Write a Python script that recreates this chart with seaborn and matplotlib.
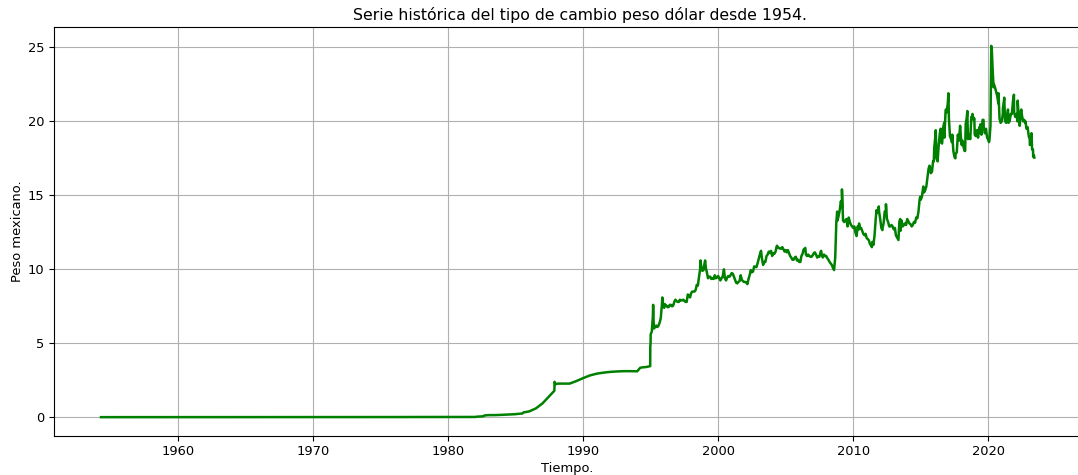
import pandas as pd
import numpy as np
import matplotlib
matplotlib.use("Agg")
import matplotlib.pyplot as plt
import seaborn as sns

# Tipo de cambio peso-dolar (pesos nuevos)
fechas_inicio = [
    "1954-04-19", "1976-08-31", "1976-09-15", "1977-06-01", "1980-01-01",
    "1981-12-31", "1982-02-18", "1982-08-10", "1982-09-01", "1982-12-20",
    "1983-06-01", "1984-01-01", "1984-12-01", "1985-07-01", "1985-08-01",
    "1986-01-01", "1986-07-01", "1987-01-01", "1987-06-01", "1987-11-15",
    "1987-11-20", "1987-12-15", "1988-03-01", "1989-01-01", "1989-07-01",
    "1990-01-01", "1990-07-01", "1991-01-01", "1991-07-01", "1992-01-01",
    "1992-07-01", "1993-01-01", "1993-07-01", "1994-01-01", "1994-03-25",
    "1994-06-01", "1994-09-01", "1994-12-20",
]
valores_inicio = [
    0.0125, 0.0125, 0.020, 0.0227, 0.0230,
    0.026, 0.045, 0.070, 0.12, 0.15,
    0.15, 0.17, 0.21, 0.26, 0.33,
    0.40, 0.60, 0.95, 1.35, 1.80,
    2.40, 2.25, 2.28, 2.28, 2.45,
    2.65, 2.83, 2.95, 3.02, 3.07,
    3.10, 3.12, 3.12, 3.11, 3.35,
    3.38, 3.40, 3.46,
]

# Valores mensuales desde enero de 1995
valores_mensuales = [
    5.60, 5.80, 6.80, 6.00, 6.10, 6.20, 6.10, 6.20, 6.40, 6.70, 7.60, 7.70,   # 1995
    7.40, 7.55, 7.55, 7.45, 7.45, 7.60, 7.60, 7.50, 7.55, 7.80, 7.95, 7.85,   # 1996
    7.80, 7.80, 7.95, 7.90, 7.90, 7.95, 7.88, 7.80, 7.80, 8.30, 8.25, 8.10,   # 1997
    8.40, 8.50, 8.50, 8.50, 8.60, 8.95, 8.90, 9.50, 10.20, 10.20, 9.90, 9.95, # 1998
    10.45, 10.10, 9.80, 9.40, 9.50, 9.50, 9.35, 9.40, 9.35, 9.60, 9.40, 9.45, # 1999
    9.55, 9.40, 9.25, 9.40, 9.50, 9.95, 9.40, 9.25, 9.45, 9.55, 9.50, 9.60,   # 2000
    9.75, 9.70, 9.50, 9.30, 9.10, 9.05, 9.15, 9.20, 9.60, 9.30, 9.20, 9.15,   # 2001
    9.15, 9.10, 9.00, 9.35, 9.60, 9.95, 9.80, 9.85, 10.20, 10.10, 10.15, 10.40, # 2002
    10.70, 11.00, 11.20, 10.70, 10.30, 10.50, 10.50, 10.90, 11.00, 11.20, 11.10, 11.25, # 2003
    10.90, 11.10, 11.05, 11.20, 11.55, 11.45, 11.45, 11.40, 11.40, 11.50, 11.35, 11.20, # 2004
    11.30, 11.15, 11.30, 11.10, 10.90, 10.80, 10.65, 10.65, 10.80, 10.85, 10.60, 10.65, # 2005
    10.50, 10.50, 10.90, 11.05, 11.35, 11.40, 11.00, 10.90, 11.00, 10.90, 10.85, 10.85, # 2006
    10.95, 11.10, 11.15, 11.00, 10.80, 10.85, 10.85, 11.15, 11.00, 10.80, 11.00, 10.90, # 2007
    10.90, 10.75, 10.65, 10.50, 10.40, 10.30, 10.10, 9.95, 10.80, 13.20, 13.30, 13.60, # 2008
    14.00, 14.60, 14.20, 13.30, 13.20, 13.30, 13.40, 12.90, 13.50, 13.20, 13.00, 12.90, # 2009
    12.80, 12.90, 12.50, 12.25, 12.90, 12.70, 12.75, 12.80, 12.60, 12.40, 12.30, 12.40, # 2010
    12.10, 12.05, 11.95, 11.70, 11.60, 11.85, 11.65, 12.30, 13.40, 13.80, 13.90, 13.90, # 2011
    13.40, 12.80, 12.75, 13.10, 13.90, 13.90, 13.40, 13.20, 12.90, 12.90, 13.00, 12.90, # 2012
    12.70, 12.80, 12.30, 12.15, 12.00, 13.20, 12.60, 13.30, 12.90, 13.00, 13.10, 13.00, # 2013
    13.40, 13.25, 13.10, 13.05, 12.90, 13.00, 13.20, 13.15, 13.50, 13.45, 13.90, 14.70, # 2014
    14.70, 14.90, 15.40, 15.20, 15.35, 15.60, 16.20, 16.80, 17.00, 16.50, 16.60, 17.30, # 2015
    18.20, 19.00, 17.50, 17.40, 18.40, 19.20, 18.60, 18.50, 19.60, 18.90, 20.60, 20.60, # 2016
    21.20, 20.20, 19.00, 18.80, 18.60, 18.00, 17.60, 17.80, 17.90, 19.10, 18.70, 19.70, # 2017
    18.60, 18.70, 18.30, 18.00, 19.80, 20.30, 18.80, 19.10, 18.80, 20.30, 20.50, 20.10, # 2018
    19.10, 19.20, 19.40, 18.90, 19.60, 19.20, 19.10, 20.10, 19.60, 19.20, 19.50, 18.90, # 2019
    18.80, 18.70, 19.70, 24.30, 23.40, 22.50, 22.30, 22.00, 21.70, 21.20, 20.20, 19.90, # 2020
    20.00, 20.90, 21.40, 20.00, 19.90, 20.50, 19.90, 20.00, 20.50, 20.50, 21.40, 20.60, # 2021
    20.30, 20.50, 20.00, 20.40, 19.70, 20.70, 20.40, 20.00, 20.10, 19.90, 19.50, 19.60, # 2022
    19.00, 18.40, 18.60, 18.10, 17.60, 17.55,                                           # 2023
]

# Picos y caidas puntuales entre los valores mensuales
fechas_picos = [
    "1994-12-22", "1994-12-30", "1995-03-09", "1995-03-20", "1995-11-13",
    "1996-01-20", "1998-08-31", "1998-09-10", "1999-01-14", "2000-06-05",
    "2002-10-01", "2003-03-05", "2004-05-12", "2006-06-14", "2007-08-16",
    "2008-10-24", "2009-03-02", "2010-06-08", "2011-05-20", "2011-09-23",
    "2011-11-23", "2012-02-28", "2012-06-04", "2013-05-08", "2013-06-24",
    "2014-12-16", "2015-03-11", "2015-08-24", "2015-12-20", "2016-02-11",
    "2016-04-01", "2016-06-24", "2016-09-27", "2016-11-11", "2016-11-30",
    "2017-01-19", "2017-04-18", "2017-05-03", "2017-07-25", "2018-01-15",
    "2018-04-16", "2018-06-14", "2018-10-30", "2018-12-20", "2019-01-30",
    "2019-06-04", "2019-08-26", "2019-12-24", "2020-01-20", "2020-03-23",
    "2020-04-05", "2020-05-25", "2020-10-05", "2021-01-29", "2021-03-08",
    "2021-06-18", "2021-11-26", "2022-03-07", "2022-06-14", "2022-10-03",
    "2023-01-27", "2023-03-15", "2023-04-25", "2023-05-20",
]
valores_picos = [
    4.80, 5.00, 7.60, 6.60, 8.10,
    7.65, 10.00, 10.60, 10.60, 10.00,
    10.25, 11.25, 11.60, 11.45, 11.25,
    13.90, 15.40, 13.10, 11.50, 14.00,
    14.25, 12.65, 14.40, 11.98, 13.40,
    14.90, 15.60, 17.00, 17.30, 19.40,
    17.20, 19.50, 19.90, 20.80, 20.60,
    21.90, 18.60, 19.10, 17.50, 18.40,
    18.00, 20.70, 20.40, 20.20, 19.00,
    19.80, 20.10, 18.80, 18.60, 25.10,
    24.90, 22.30, 21.90, 20.50, 21.60,
    20.80, 21.80, 21.40, 20.80, 20.00,
    18.80, 19.20, 18.10, 17.70,
]

fechas_mensuales = pd.date_range("1995-01-01", periods=len(valores_mensuales), freq="MS")

df = pd.concat([
    pd.DataFrame({"Fecha": pd.to_datetime(fechas_inicio), "Tipo de cambio": valores_inicio}),
    pd.DataFrame({"Fecha": fechas_mensuales, "Tipo de cambio": valores_mensuales}),
    pd.DataFrame({"Fecha": pd.to_datetime(fechas_picos), "Tipo de cambio": valores_picos}),
]).sort_values("Fecha").reset_index(drop=True)

plt.rcParams["font.size"] = 9.4

fig = plt.figure(figsize=(10.78, 4.75), dpi=100)
ax = fig.add_axes([0.0504, 0.0827, 0.9524, 0.8598])
sns.lineplot(data=df, x="Fecha", y="Tipo de cambio", color="green", linewidth=1.8, ax=ax)
ax.set_title("Serie histórica del tipo de cambio peso dólar desde 1954.", fontsize=11.3, pad=5.5, x=0.512)
ax.set_xlabel("Tiempo.", labelpad=2.5)
ax.set_ylabel("Peso mexicano.", labelpad=3)
ax.grid(True)

fig.savefig("out.png", dpi=100)
